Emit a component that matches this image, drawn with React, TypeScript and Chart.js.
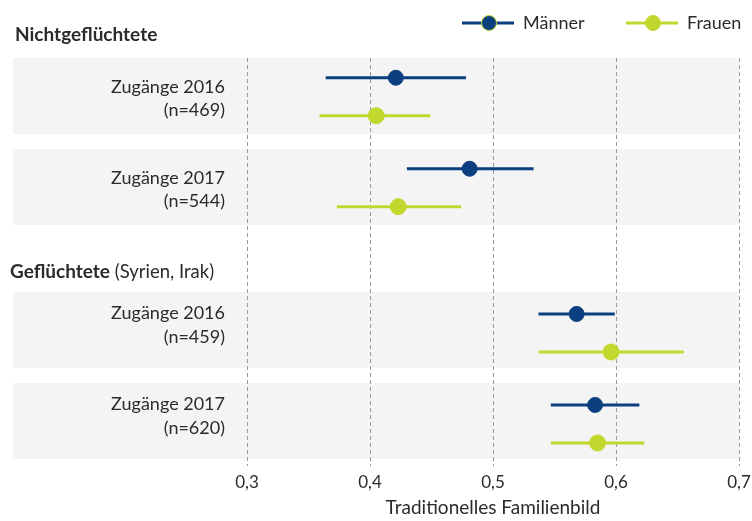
import React, { useEffect, useRef } from "react";
import { Chart, registerables } from "chart.js";

Chart.register(...registerables);

const groupTitlesBold = ["Nichtgeflüchtete", "Geflüchtete"];
const groupTitlesNormal = ["", " (Syrien, Irak)"];
const rowLabels = ["Zugänge 2016", "Zugänge 2017", "Zugänge 2016", "Zugänge 2017"];
const rowN = ["(n=469)", "(n=544)", "(n=459)", "(n=620)"];
const rowGroup = [0, 0, 1, 1];

const menMean = [0.421, 0.481, 0.568, 0.583];
const menLow = [0.364, 0.43, 0.537, 0.547];
const menHigh = [0.478, 0.533, 0.599, 0.619];
const womenMean = [0.405, 0.423, 0.596, 0.585];
const womenLow = [0.359, 0.373, 0.537, 0.547];
const womenHigh = [0.449, 0.474, 0.655, 0.623];

const xTicks = [0.3, 0.4, 0.5, 0.6, 0.7];
const seriesNames = ["Männer", "Frauen"];
const axisTitle = "Traditionelles Familienbild";

const NAVY = "#0b3f80";
const LIME = "#c2d82e";
const BAND = "#f4f4f4";
const TEXT = "#2b2b2b";
const FONT = "Lato, 'Noto Sans', sans-serif";

const GROUP_GAP = 0.571;
const HALF_BAND = 0.418;
// per-group offsets of the two series within a band (y units)
const MEN_OFF = [-0.201, -0.176];
const WOMEN_OFF = [0.216, 0.242];
// per-group label baseline offsets (px)
const LABEL_OFF1 = [-3.5, -10.7];
const LABEL_OFF2 = [20, 13.3];

const rowPos = rowLabels.map((_, i) => i + rowGroup[i] * GROUP_GAP);

export default function App() {
  const ref = useRef<HTMLCanvasElement | null>(null);

  useEffect(() => {
    if (!ref.current) return;

    const errorSets: any[] = [];
    rowPos.forEach((p, i) => {
      const g = rowGroup[i];
      errorSets.push({
        type: "line",
        data: [
          { x: menLow[i], y: p + MEN_OFF[g] },
          { x: menHigh[i], y: p + MEN_OFF[g] },
        ],
        borderColor: NAVY,
        borderWidth: 3,
        pointRadius: 0,
        showLine: true,
        order: 2,
      });
      errorSets.push({
        type: "line",
        data: [
          { x: womenLow[i], y: p + WOMEN_OFF[g] },
          { x: womenHigh[i], y: p + WOMEN_OFF[g] },
        ],
        borderColor: LIME,
        borderWidth: 3,
        pointRadius: 0,
        showLine: true,
        order: 2,
      });
    });

    const bgPlugin = {
      id: "bands",
      beforeDraw(chart: any) {
        const { ctx, chartArea, scales } = chart;
        const y = scales.y;
        ctx.save();
        ctx.fillStyle = BAND;
        rowPos.forEach((p) => {
          const t = y.getPixelForValue(p - HALF_BAND);
          const b = y.getPixelForValue(p + HALF_BAND);
          ctx.fillRect(13, t, chartArea.right - 13, b - t);
        });
        ctx.restore();
      },
      afterDraw(chart: any) {
        const { ctx, scales, chartArea } = chart;
        const y = scales.y;
        ctx.save();
        ctx.fillStyle = TEXT;
        // row labels
        ctx.font = `18px ${FONT}`;
        ctx.textAlign = "right";
        ctx.textBaseline = "alphabetic";
        rowPos.forEach((p, i) => {
          const c = y.getPixelForValue(p);
          const g = rowGroup[i];
          ctx.fillText(rowLabels[i], 225, c + LABEL_OFF1[g]);
          ctx.fillText(rowN[i], 225, c + LABEL_OFF2[g]);
        });
        // group titles
        ctx.textAlign = "left";
        ctx.textBaseline = "middle";
        [0, 2].forEach((first, g) => {
          const c = y.getPixelForValue(rowPos[first] - (g === 0 ? 0.67 : 0.64));
          const x0 = g === 0 ? 15 : 10;
          ctx.font = `bold 19px ${FONT}`;
          ctx.fillText(groupTitlesBold[g], x0, c);
          const w = ctx.measureText(groupTitlesBold[g]).width;
          ctx.font = `18.5px ${FONT}`;
          ctx.fillText(groupTitlesNormal[g], x0 + w, c);
        });
        // axis title
        ctx.font = `19px ${FONT}`;
        ctx.textAlign = "center";
        ctx.textBaseline = "middle";
        ctx.fillText(axisTitle, (chartArea.left + chartArea.right) / 2, chartArea.bottom + 42);
        // legend
        const ly = 23;
        const items = [
          { x: 462, color: NAVY, border: LIME, name: seriesNames[0] },
          { x: 626, color: LIME, border: LIME, name: seriesNames[1] },
        ];
        items.forEach((it) => {
          ctx.strokeStyle = it.color;
          ctx.lineWidth = 3;
          ctx.beginPath();
          ctx.moveTo(it.x, ly);
          ctx.lineTo(it.x + 52, ly);
          ctx.stroke();
          ctx.beginPath();
          ctx.arc(it.x + 27, ly, 7.5, 0, Math.PI * 2);
          ctx.fillStyle = it.color;
          ctx.fill();
          ctx.lineWidth = 1;
          ctx.strokeStyle = it.border;
          ctx.stroke();
          ctx.fillStyle = TEXT;
          ctx.font = `18px ${FONT}`;
          ctx.textAlign = "left";
          ctx.textBaseline = "middle";
          ctx.fillText(it.name, it.x + 61, ly);
        });
        ctx.restore();
      },
    };

    const chart = new Chart(ref.current, {
      type: "scatter",
      data: {
        datasets: [
          {
            label: seriesNames[0],
            data: rowPos.map((p, i) => ({ x: menMean[i], y: p + MEN_OFF[rowGroup[i]] })),
            backgroundColor: NAVY,
            borderColor: NAVY,
            pointRadius: 7.5,
            order: 0,
          },
          {
            label: seriesNames[1],
            data: rowPos.map((p, i) => ({ x: womenMean[i], y: p + WOMEN_OFF[rowGroup[i]] })),
            backgroundColor: LIME,
            borderColor: LIME,
            pointRadius: 8,
            order: 0,
          },
          ...errorSets,
        ],
      },
      options: {
        animation: false,
        responsive: false,
        layout: { padding: { left: 247, right: 13, top: 58, bottom: 0 } },
        plugins: { legend: { display: false }, tooltip: { enabled: false } },
        scales: {
          x: {
            type: "linear",
            min: 0.3,
            max: 0.7,
            afterBuildTicks(scale: any) {
              scale.ticks = xTicks.map((v) => ({ value: v }));
            },
            afterFit(scale: any) {
              scale.paddingLeft = 0;
              scale.paddingRight = 0;
              scale.height = 55;
            },
            grid: {
              color: "#9a9a9a",
              lineWidth: 1,
              drawTicks: false,
            },
            border: { display: false, dash: [4, 3] },
            ticks: {
              padding: 6,
              color: TEXT,
              font: { family: FONT, size: 17 },
              maxRotation: 0,
              callback: (v: any) => Number(v).toFixed(1).replace(".", ","),
            },
          },
          y: {
            type: "linear",
            display: false,
            reverse: true,
            min: -HALF_BAND,
            max: rowPos[3] + 0.495,
          },
        },
      },
      plugins: [bgPlugin],
    } as any);

    return () => chart.destroy();
  }, []);

  return (
    <div style={{ position: "absolute", left: 0, top: 0, width: 752, height: 521, background: "#fff" }}>
      <canvas ref={ref} width={752} height={521} style={{ width: 752, height: 521 }} />
    </div>
  );
}
